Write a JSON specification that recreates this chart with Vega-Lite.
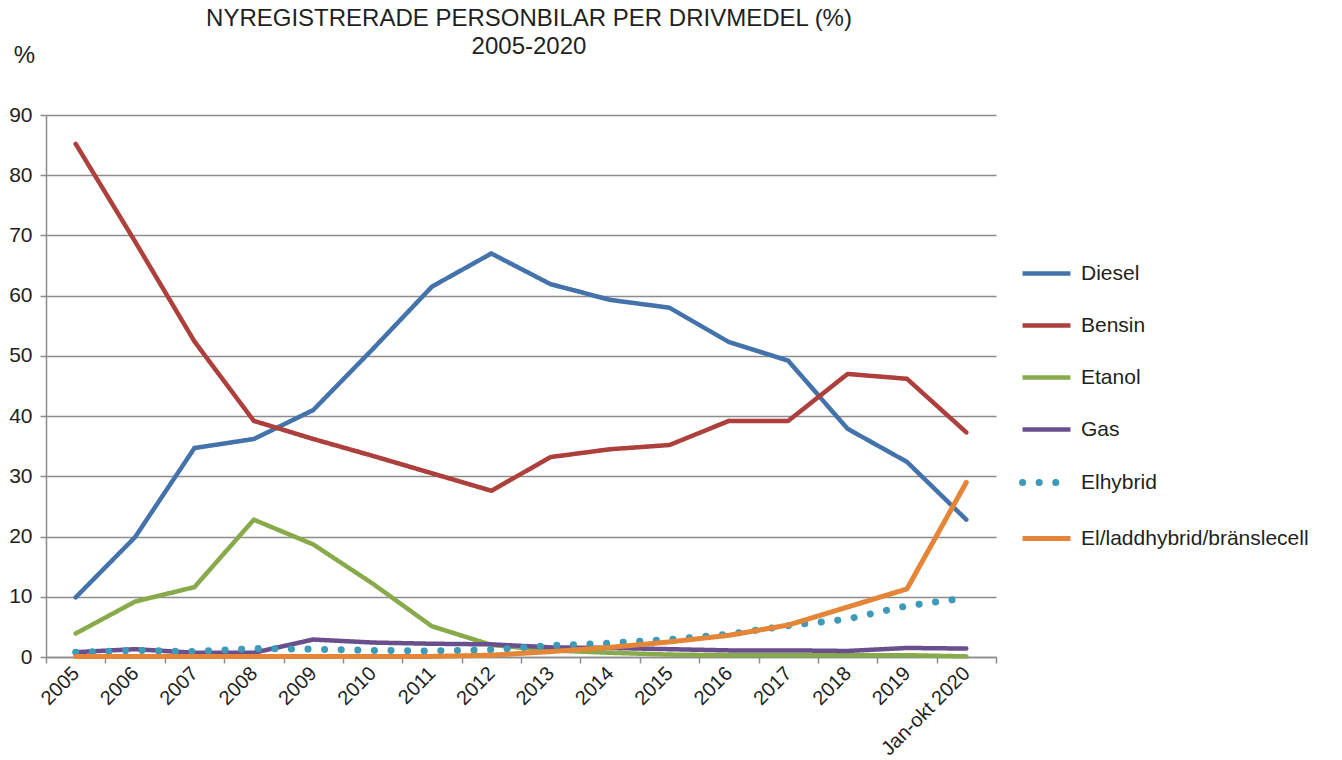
{
  "$schema": "https://vega.github.io/schema/vega-lite/v6.json",
  "width": 950,
  "height": 542,
  "autosize": {"type": "none"},
  "padding": {"left": 46, "top": 115, "right": 346, "bottom": 103},
  "background": "white",
  "config": {
    "font": "Liberation Sans",
    "view": {"stroke": null}
  },
  "title": {
    "text": ["NYREGISTRERADE PERSONBILAR PER DRIVMEDEL (%)", "2005-2020"],
    "fontSize": 24,
    "fontWeight": "normal",
    "font": "Liberation Sans",
    "color": "#231f20",
    "lineHeight": 28,
    "anchor": "middle",
    "frame": "group",
    "dx": 8,
    "offset": -16
  },
  "data": {
    "values": [
      {"year": "2005", "series": "Diesel", "value": 9.9},
      {"year": "2006", "series": "Diesel", "value": 19.9},
      {"year": "2007", "series": "Diesel", "value": 34.7},
      {"year": "2008", "series": "Diesel", "value": 36.2},
      {"year": "2009", "series": "Diesel", "value": 41.0},
      {"year": "2010", "series": "Diesel", "value": 51.1},
      {"year": "2011", "series": "Diesel", "value": 61.5},
      {"year": "2012", "series": "Diesel", "value": 67.0},
      {"year": "2013", "series": "Diesel", "value": 61.9},
      {"year": "2014", "series": "Diesel", "value": 59.3},
      {"year": "2015", "series": "Diesel", "value": 58.0},
      {"year": "2016", "series": "Diesel", "value": 52.3},
      {"year": "2017", "series": "Diesel", "value": 49.2},
      {"year": "2018", "series": "Diesel", "value": 37.9},
      {"year": "2019", "series": "Diesel", "value": 32.4},
      {"year": "Jan-okt 2020", "series": "Diesel", "value": 22.8},
      {"year": "2005", "series": "Bensin", "value": 85.2},
      {"year": "2006", "series": "Bensin", "value": 69.0},
      {"year": "2007", "series": "Bensin", "value": 52.4},
      {"year": "2008", "series": "Bensin", "value": 39.2},
      {"year": "2009", "series": "Bensin", "value": 36.2},
      {"year": "2010", "series": "Bensin", "value": 33.4},
      {"year": "2011", "series": "Bensin", "value": 30.5},
      {"year": "2012", "series": "Bensin", "value": 27.6},
      {"year": "2013", "series": "Bensin", "value": 33.2},
      {"year": "2014", "series": "Bensin", "value": 34.5},
      {"year": "2015", "series": "Bensin", "value": 35.2},
      {"year": "2016", "series": "Bensin", "value": 39.2},
      {"year": "2017", "series": "Bensin", "value": 39.2},
      {"year": "2018", "series": "Bensin", "value": 47.0},
      {"year": "2019", "series": "Bensin", "value": 46.2},
      {"year": "Jan-okt 2020", "series": "Bensin", "value": 37.3},
      {"year": "2005", "series": "Etanol", "value": 3.9},
      {"year": "2006", "series": "Etanol", "value": 9.2},
      {"year": "2007", "series": "Etanol", "value": 11.6},
      {"year": "2008", "series": "Etanol", "value": 22.8},
      {"year": "2009", "series": "Etanol", "value": 18.7},
      {"year": "2010", "series": "Etanol", "value": 12.2},
      {"year": "2011", "series": "Etanol", "value": 5.1},
      {"year": "2012", "series": "Etanol", "value": 2.0},
      {"year": "2013", "series": "Etanol", "value": 1.1},
      {"year": "2014", "series": "Etanol", "value": 0.7},
      {"year": "2015", "series": "Etanol", "value": 0.4},
      {"year": "2016", "series": "Etanol", "value": 0.3},
      {"year": "2017", "series": "Etanol", "value": 0.3},
      {"year": "2018", "series": "Etanol", "value": 0.3},
      {"year": "2019", "series": "Etanol", "value": 0.3},
      {"year": "Jan-okt 2020", "series": "Etanol", "value": 0.1},
      {"year": "2005", "series": "Gas", "value": 0.8},
      {"year": "2006", "series": "Gas", "value": 1.3},
      {"year": "2007", "series": "Gas", "value": 0.7},
      {"year": "2008", "series": "Gas", "value": 0.7},
      {"year": "2009", "series": "Gas", "value": 2.9},
      {"year": "2010", "series": "Gas", "value": 2.4},
      {"year": "2011", "series": "Gas", "value": 2.2},
      {"year": "2012", "series": "Gas", "value": 2.1},
      {"year": "2013", "series": "Gas", "value": 1.6},
      {"year": "2014", "series": "Gas", "value": 1.5},
      {"year": "2015", "series": "Gas", "value": 1.3},
      {"year": "2016", "series": "Gas", "value": 1.1},
      {"year": "2017", "series": "Gas", "value": 1.1},
      {"year": "2018", "series": "Gas", "value": 1.0},
      {"year": "2019", "series": "Gas", "value": 1.5},
      {"year": "Jan-okt 2020", "series": "Gas", "value": 1.4},
      {"year": "2005", "series": "Elhybrid", "value": 0.8},
      {"year": "2006", "series": "Elhybrid", "value": 1.1},
      {"year": "2007", "series": "Elhybrid", "value": 0.9},
      {"year": "2008", "series": "Elhybrid", "value": 1.4},
      {"year": "2009", "series": "Elhybrid", "value": 1.3},
      {"year": "2010", "series": "Elhybrid", "value": 1.1},
      {"year": "2011", "series": "Elhybrid", "value": 1.0},
      {"year": "2012", "series": "Elhybrid", "value": 1.2},
      {"year": "2013", "series": "Elhybrid", "value": 1.9},
      {"year": "2014", "series": "Elhybrid", "value": 2.3},
      {"year": "2015", "series": "Elhybrid", "value": 2.9},
      {"year": "2016", "series": "Elhybrid", "value": 3.8},
      {"year": "2017", "series": "Elhybrid", "value": 5.2},
      {"year": "2018", "series": "Elhybrid", "value": 6.3},
      {"year": "2019", "series": "Elhybrid", "value": 8.5},
      {"year": "Jan-okt 2020", "series": "Elhybrid", "value": 9.8},
      {"year": "2005", "series": "El/laddhybrid/bränslecell", "value": 0.1},
      {"year": "2006", "series": "El/laddhybrid/bränslecell", "value": 0.1},
      {"year": "2007", "series": "El/laddhybrid/bränslecell", "value": 0.1},
      {"year": "2008", "series": "El/laddhybrid/bränslecell", "value": 0.1},
      {"year": "2009", "series": "El/laddhybrid/bränslecell", "value": 0.1},
      {"year": "2010", "series": "El/laddhybrid/bränslecell", "value": 0.1},
      {"year": "2011", "series": "El/laddhybrid/bränslecell", "value": 0.1},
      {"year": "2012", "series": "El/laddhybrid/bränslecell", "value": 0.3},
      {"year": "2013", "series": "El/laddhybrid/bränslecell", "value": 0.9},
      {"year": "2014", "series": "El/laddhybrid/bränslecell", "value": 1.6},
      {"year": "2015", "series": "El/laddhybrid/bränslecell", "value": 2.5},
      {"year": "2016", "series": "El/laddhybrid/bränslecell", "value": 3.6},
      {"year": "2017", "series": "El/laddhybrid/bränslecell", "value": 5.3},
      {"year": "2018", "series": "El/laddhybrid/bränslecell", "value": 8.3},
      {"year": "2019", "series": "El/laddhybrid/bränslecell", "value": 11.3},
      {"year": "Jan-okt 2020", "series": "El/laddhybrid/bränslecell", "value": 29.0}
    ]
  },
  "mark": {"type": "line", "strokeCap": "round", "strokeJoin": "round"},
  "encoding": {
    "x": {
      "field": "year",
      "type": "ordinal",
      "sort": null,
      "scale": {"type": "band", "paddingInner": 0, "paddingOuter": 0},
      "axis": {
        "title": null,
        "tickBand": "extent",
        "labelAngle": -45,
        "labelAlign": "right",
        "labelBaseline": "middle",
        "labelFontSize": 20,
        "labelColor": "#231f20",
        "labelPadding": 7,
        "labelOffset": 0,
        "labelLimit": 300,
        "tickSize": 6,
        "tickColor": "#8c8c8c",
        "tickWidth": 1.5,
        "domainColor": "#8c8c8c",
        "domainWidth": 1.5,
        "grid": false,
        "encode": {
          "labels": {"update": {"dx": {"signal": "datum.value === 'Jan-okt 2020' ? 16 : 0"}}}
        }
      }
    },
    "y": {
      "field": "value",
      "type": "quantitative",
      "scale": {"domain": [0, 90], "nice": false},
      "axis": {
        "values": [0, 10, 20, 30, 40, 50, 60, 70, 80, 90],
        "title": "%",
        "titleAngle": 0,
        "titleAlign": "center",
        "titleBaseline": "middle",
        "titleX": -22,
        "titleY": -60,
        "titleFontSize": 24,
        "titleFontWeight": "normal",
        "titleColor": "#231f20",
        "labelFontSize": 21,
        "labelColor": "#231f20",
        "labelPadding": 8,
        "tickSize": 6,
        "tickColor": "#8c8c8c",
        "tickWidth": 1.5,
        "domainColor": "#8c8c8c",
        "domainWidth": 1.5,
        "grid": true,
        "gridColor": "#8c8c8c",
        "gridWidth": 1.5
      }
    },
    "color": {
      "field": "series",
      "type": "nominal",
      "scale": {
        "domain": ["Diesel", "Bensin", "Etanol", "Gas", "Elhybrid", "El/laddhybrid/bränslecell"],
        "range": ["#4472ab", "#ad3f3c", "#88aa4a", "#6a4f8e", "#3d9ab8", "#e58537"]
      },
      "legend": {
        "title": null,
        "orient": "none",
        "legendX": 973,
        "legendY": 132,
        "symbolType": "stroke",
        "symbolSize": 2300,
        "symbolStrokeWidth": 6,
        "labelFontSize": 21,
        "labelColor": "#231f20",
        "labelOffset": 7,
        "labelLimit": 400,
        "rowPadding": 15,
        "symbolOpacity": 1,
        "encode": {
          "symbols": {"update": {
            "strokeCap": {"signal": "datum.value === 'Elhybrid' ? 'round' : 'butt'"},
            "strokeDash": {"signal": "datum.value === 'Elhybrid' ? [0.1, 15] : [1, 0]"}
          }}
        }
      }
    },
    "strokeDash": {
      "field": "series",
      "type": "nominal",
      "scale": {
        "domain": ["Diesel", "Bensin", "Etanol", "Gas", "Elhybrid", "El/laddhybrid/bränslecell"],
        "range": [[1, 0], [1, 0], [1, 0], [1, 0], [0.1, 16.5], [1, 0]]
      },
      "legend": null
    },
    "strokeWidth": {
      "field": "series",
      "type": "ordinal",
      "scale": {
        "type": "ordinal",
        "domain": ["Diesel", "Bensin", "Etanol", "Gas", "Elhybrid", "El/laddhybrid/bränslecell"],
        "range": [4.5, 4.5, 4.5, 4.5, 7, 5]
      },
      "legend": null
    }
  }
}
